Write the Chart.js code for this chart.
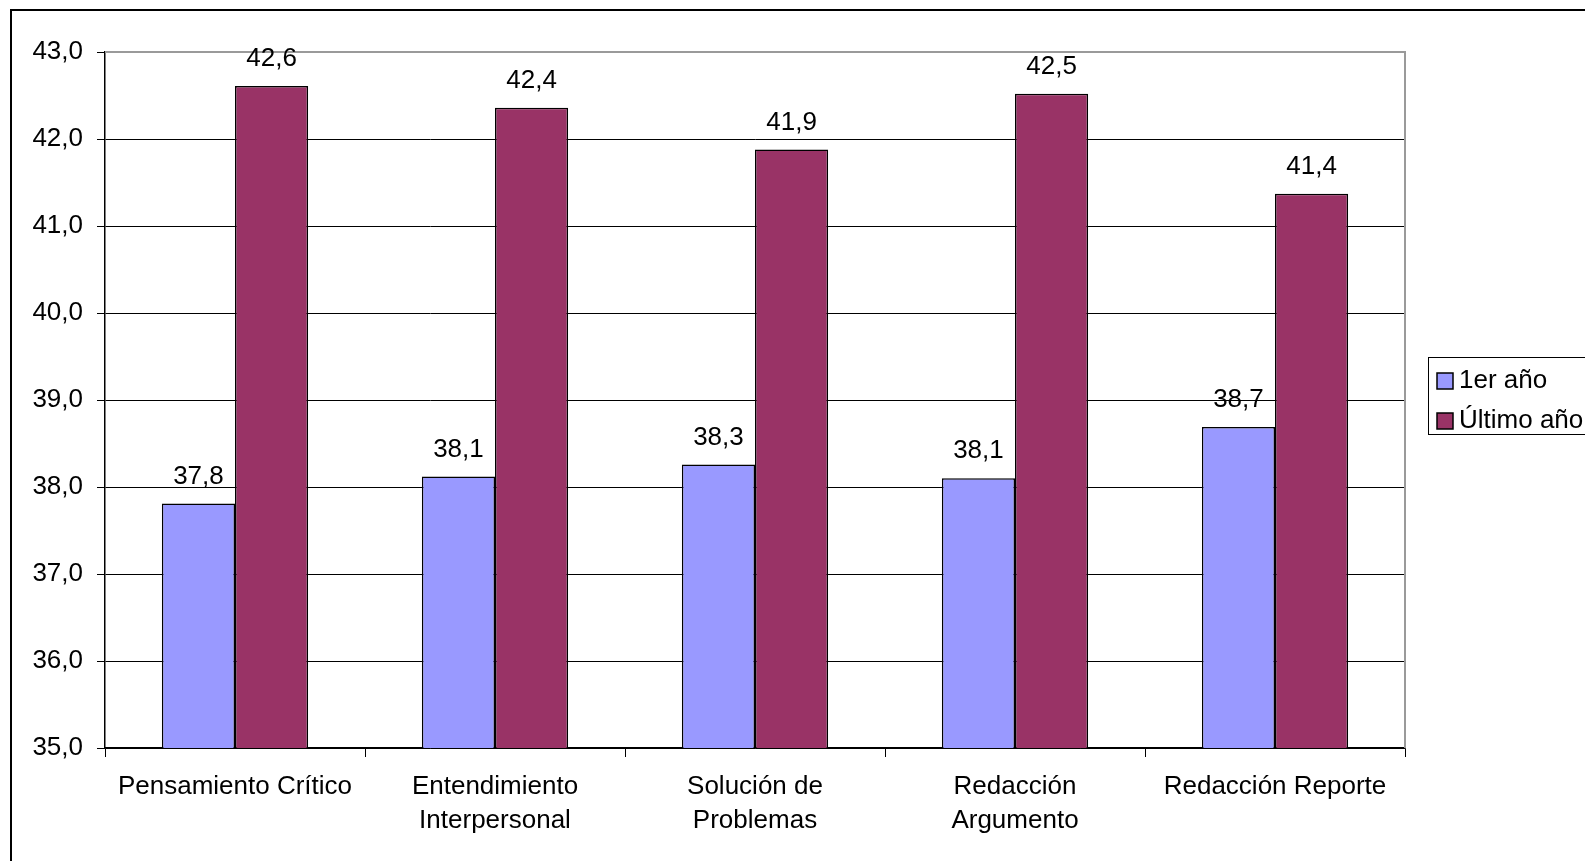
<!DOCTYPE html>
<html>
<head>
<meta charset="utf-8">
<script src="https://cdn.jsdelivr.net/npm/chart.js@4.4.1/dist/chart.umd.min.js"></script>
<style>
html,body{margin:0;padding:0;background:#fff;}
#wrap{position:relative;width:1585px;height:861px;}
</style>
</head>
<body>
<div id="wrap"><canvas id="c" width="1585" height="861"></canvas></div>
<script>
const categories = [
  "Pensamiento Crítico",
  ["Entendimiento", "Interpersonal"],
  ["Solución de", "Problemas"],
  ["Redacción", "Argumento"],
  "Redacción Reporte"
];
const seriesNames = ["1er año", "Último año"];
const primerAno = [37.81, 38.12, 38.26, 38.10, 38.69];
const ultimoAno = [42.61, 42.36, 41.88, 42.52, 41.37];
const yMin = 35, yMax = 43, yStep = 1;

const FONT = "'Liberation Sans', Arial, sans-serif";
const FS = 26;
const fmt = v => v.toFixed(1).replace('.', ',');

const framePlugin = {
  id: 'frame',
  beforeDraw(chart) {
    const ctx = chart.ctx;
    ctx.save();
    ctx.fillStyle = '#fff';
    ctx.fillRect(0, 0, chart.width, chart.height);
    ctx.strokeStyle = '#000';
    ctx.lineWidth = 2;
    ctx.strokeRect(11, 10, 2000, 2000);
    ctx.restore();
  },
  beforeDatasetsDraw(chart) {
    const a = chart.chartArea, ctx = chart.ctx;
    ctx.save();
    ctx.strokeStyle = '#9a9a9a';
    ctx.lineWidth = 2;
    ctx.beginPath();
    ctx.moveTo(a.left, a.top);
    ctx.lineTo(a.right, a.top);
    ctx.lineTo(a.right, a.bottom);
    ctx.stroke();
    ctx.restore();
  },
  afterDraw(chart) {
    const ctx = chart.ctx;
    ctx.save();
    ctx.font = FS + 'px ' + FONT;
    ctx.fillStyle = '#000';
    ctx.textAlign = 'center';
    ctx.textBaseline = 'middle';
    chart.data.datasets.forEach((ds, i) => {
      chart.getDatasetMeta(i).data.forEach((bar, j) => {
        ctx.fillText(fmt(ds.data[j]), bar.x, bar.y - 27);
      });
    });
    const lx = 1428, ly = 357;
    ctx.fillStyle = '#fff';
    ctx.fillRect(lx, ly, 200, 77);
    ctx.strokeStyle = '#000';
    ctx.lineWidth = 1;
    ctx.strokeRect(lx + 0.5, ly + 0.5, 200, 77);
    ctx.textAlign = 'left';
    chart.data.datasets.forEach((ds, i) => {
      const cy = 381 + i * 40;
      ctx.fillStyle = ds.backgroundColor;
      ctx.fillRect(1437, cy - 8, 16, 16);
      ctx.strokeStyle = '#000';
      ctx.lineWidth = 1.5;
      ctx.strokeRect(1437, cy - 8, 16, 16);
      ctx.fillStyle = '#000';
      ctx.fillText(ds.label, 1459, cy);
    });
    ctx.restore();
  }
};

new Chart(document.getElementById('c'), {
  type: 'bar',
  data: {
    labels: categories,
    datasets: [
      { label: seriesNames[0], data: primerAno, backgroundColor: '#9999FF', borderColor: '#000', borderWidth: 1.5, borderSkipped: false },
      { label: seriesNames[1], data: ultimoAno, backgroundColor: '#993366', borderColor: '#000', borderWidth: 1.5, borderSkipped: false }
    ]
  },
  options: {
    responsive: false,
    animation: false,
    devicePixelRatio: 1,
    layout: { padding: { left: 0, top: 52, right: 180, bottom: 0 } },
    categoryPercentage: 0.5625,
    barPercentage: 1.0,
    plugins: { legend: { display: false }, tooltip: { enabled: false } },
    scales: {
      x: {
        grid: { display: true, drawOnChartArea: false, offset: true, tickLength: 9, color: '#000', lineWidth: 1 },
        border: { display: true, color: '#000', width: 1.5 },
        ticks: { color: '#000', font: { family: FONT, size: FS, lineHeight: 1.3 }, padding: 13, maxRotation: 0, autoSkip: false },
        afterFit(s) { s.height = 113; }
      },
      y: {
        min: yMin, max: yMax,
        grid: { color: '#000', lineWidth: 1, tickLength: 8, drawTicks: true },
        border: { display: true, color: '#000', width: 1.5 },
        ticks: { stepSize: yStep, color: '#000', font: { family: FONT, size: FS }, padding: 14, callback: v => fmt(v) },
        afterFit(s) { s.width = 105; }
      }
    }
  },
  plugins: [framePlugin]
});
</script>
</body>
</html>
